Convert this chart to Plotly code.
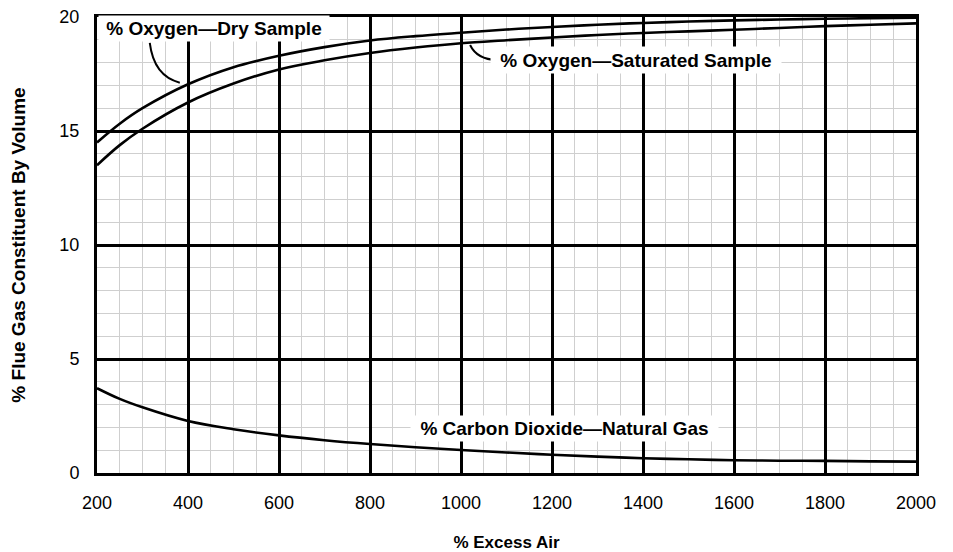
import plotly.graph_objects as go

# % excess air
excess_air = [200, 250, 300, 400, 500, 600, 700, 800, 900, 1000, 1100, 1200,
              1300, 1400, 1500, 1600, 1700, 1800, 1900, 2000]

# % flue gas constituent by volume
o2_dry = [14.5, 15.32, 16.0, 17.05, 17.8, 18.3, 18.68, 18.97, 19.16, 19.31, 19.45,
          19.56, 19.66, 19.74, 19.8, 19.85, 19.89, 19.92, 19.95, 19.97]
o2_saturated = [13.5, 14.38, 15.1, 16.25, 17.08, 17.7, 18.1, 18.42, 18.66, 18.85,
                18.98, 19.1, 19.21, 19.3, 19.37, 19.44, 19.52, 19.6, 19.66, 19.72]
co2_natural_gas = [3.72, 3.25, 2.88, 2.28, 1.92, 1.65, 1.44, 1.27, 1.13, 1.01, 0.9,
                   0.8, 0.72, 0.65, 0.6, 0.56, 0.54, 0.53, 0.51, 0.5]

x_ticks = list(range(200, 2001, 200))
y_ticks = [0, 5, 10, 15, 20]

FONT = "Liberation Sans, Arial, sans-serif"

fig = go.Figure()
for name, ys in [("% Oxygen—Dry Sample", o2_dry),
                 ("% Oxygen—Saturated Sample", o2_saturated),
                 ("% Carbon Dioxide—Natural Gas", co2_natural_gas)]:
    fig.add_trace(go.Scatter(x=excess_air, y=ys, name=name, mode="lines",
                             line=dict(color="black", width=2.6, shape="spline", smoothing=1.0),
                             cliponaxis=False))

label_font = dict(family=FONT, size=19, color="black")
# curve labels with white boxes
fig.add_annotation(x=457, y=19.5, text="<b>% Oxygen—Dry Sample</b>", showarrow=False,
                   bgcolor="white", width=228, height=23, font=label_font)
fig.add_annotation(x=1385, y=18.11, text="<b>% Oxygen—Saturated Sample</b>", showarrow=False,
                   bgcolor="white", width=288, height=24, font=label_font)
fig.add_annotation(x=1227, y=1.95, text="<b>% Carbon Dioxide—Natural Gas</b>", showarrow=False,
                   bgcolor="white", width=305, height=23, font=label_font)

# curved leader lines
fig.add_shape(type="path", xref="x", yref="y", layer="above",
              path="M 316,18.86 Q 325,17.4 382,17.12",
              line=dict(color="black", width=2))
fig.add_shape(type="path", xref="x", yref="y", layer="above",
              path="M 1020,18.77 Q 1035,18.14 1079,18.11",
              line=dict(color="black", width=2))

axis_common = dict(showgrid=True, gridcolor="black", gridwidth=2.6, showline=True,
                   linecolor="black", linewidth=3, mirror=True, zeroline=False, ticks="",
                   automargin=False, ticklabeloverflow="allow",
                   tickfont=dict(family=FONT, size=18, color="black"))

fig.update_xaxes(range=[200, 2000], tickvals=x_ticks, ticklabelstandoff=11,
                 minor=dict(dtick=50, showgrid=True, gridcolor="#cfcfcf", gridwidth=1.3),
                 title=dict(text="<b>% Excess Air</b>", standoff=31,
                            font=dict(family=FONT, size=17, color="black")),
                 **axis_common)
fig.update_yaxes(range=[0, 20], tickvals=y_ticks, ticklabelstandoff=11,
                 minor=dict(dtick=1, showgrid=True, gridcolor="#cfcfcf", gridwidth=1.3),
                 title=dict(text="<b>% Flue Gas Constituent By Volume</b>", standoff=30,
                            font=dict(family=FONT, size=19, color="black")),
                 **axis_common)

# page body adds an 8px offset, so the figure is sized to fit the window
fig.update_layout(width=945, height=544, showlegend=False,
                  plot_bgcolor="white", paper_bgcolor="white",
                  margin=dict(l=89, r=37, t=9, b=79),
                  font=dict(family=FONT, color="black"))

fig.write_html("out.html")
